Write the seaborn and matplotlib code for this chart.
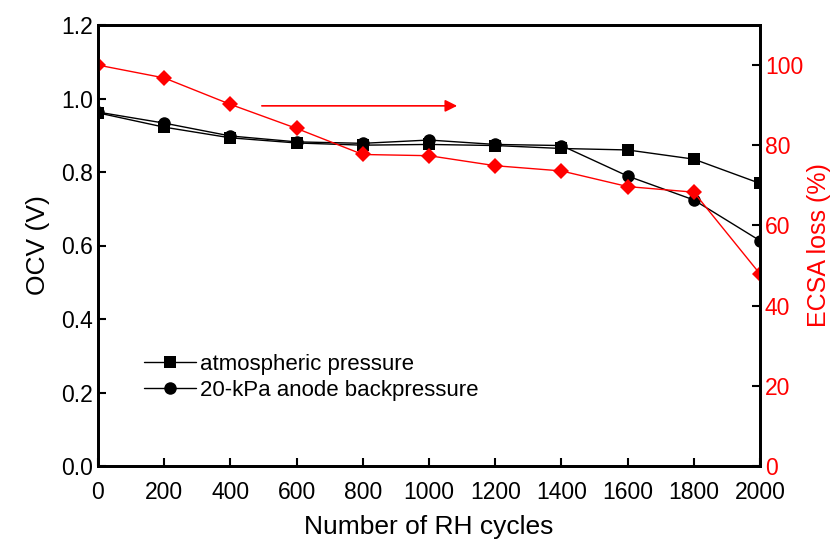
import numpy as np
import pandas as pd
import matplotlib
matplotlib.use("Agg")
import matplotlib.pyplot as plt
import seaborn as sns

# data
cycles = [0, 200, 400, 600, 800, 1000, 1200, 1400, 1600, 1800, 2000]
ocv_atm = [0.961, 0.922, 0.893, 0.879, 0.873, 0.875, 0.872, 0.864, 0.860, 0.835, 0.769]
ocv_bp = [0.963, 0.933, 0.898, 0.882, 0.878, 0.887, 0.875, 0.872, 0.789, 0.724, 0.613]
ecsa = [100.0, 96.8, 90.2, 84.2, 77.7, 77.4, 74.9, 73.6, 69.7, 68.3, 47.9]

labels = ["atmospheric pressure", "20-kPa anode backpressure"]

sns.set_theme(style="white")
plt.rcParams['font.family'] = ['Liberation Sans', 'DejaVu Sans']
plt.rcParams['text.color'] = 'black'
plt.rcParams['axes.labelcolor'] = 'black'
plt.rcParams['xtick.color'] = 'black'
plt.rcParams['ytick.color'] = 'black'

fig = plt.figure(figsize=(8.35, 5.42), dpi=100)
ax = fig.add_axes([98/835, 1 - 466/542, 662/835, 441/542])

df = pd.DataFrame({"cycles": cycles * 2,
                   "ocv": ocv_atm + ocv_bp,
                   "series": [labels[0]] * len(cycles) + [labels[1]] * len(cycles)})

sns.lineplot(data=df[df.series == labels[0]], x="cycles", y="ocv", ax=ax,
             color="black", lw=1, marker="s", markersize=8, markeredgewidth=0,
             label=labels[0])
sns.lineplot(data=df[df.series == labels[1]], x="cycles", y="ocv", ax=ax,
             color="black", lw=1, marker="o", markersize=9, markeredgewidth=0,
             label=labels[1])

ax.set_xlim(0, 2000)
ax.set_ylim(0, 1.2)
ax.set_xticks(range(0, 2001, 200))
ax.set_yticks(np.arange(0, 1.21, 0.2))
ax.set_yticklabels([f"{v:.1f}" for v in np.arange(0, 1.21, 0.2)])
ax.set_xlabel("Number of RH cycles", fontsize=19, labelpad=8)
ax.set_ylabel("OCV (V)", fontsize=19, labelpad=8)
ax.tick_params(axis="both", direction="in", length=6, width=1.5, labelsize=16.5,
               colors="black", bottom=True, left=True)
ax.tick_params(axis="x", pad=11)
for s in ax.spines.values():
    s.set_linewidth(2)
    s.set_color("black")

ax.legend(loc="lower left", bbox_to_anchor=(0.04, 0.103), frameon=False,
          fontsize=16, handlelength=2.3, handletextpad=0.2, labelspacing=0.2)

ax2 = ax.twinx()
sns.lineplot(x=cycles, y=ecsa, ax=ax2, color="red", lw=1, marker="D",
             markersize=8, markeredgewidth=0)
ax2.set_ylim(0, 110)
ax2.set_yticks(range(0, 101, 20))
ax2.set_ylabel("ECSA loss (%)", color="red", fontsize=18, labelpad=3)
ax2.tick_params(axis="y", direction="in", length=6, width=1.5, labelsize=16.5,
                labelcolor="red", color="black", right=True)
for s in ax2.spines.values():
    s.set_linewidth(2)
    s.set_color("black")

# arrow pointing to the right axis
ax.annotate("", xy=(1085, 0.98), xytext=(495, 0.98),
            arrowprops=dict(arrowstyle="-|>", color="red", lw=1.2,
                            mutation_scale=18, shrinkA=0, shrinkB=0))

fig.savefig("out.png", dpi=100)
